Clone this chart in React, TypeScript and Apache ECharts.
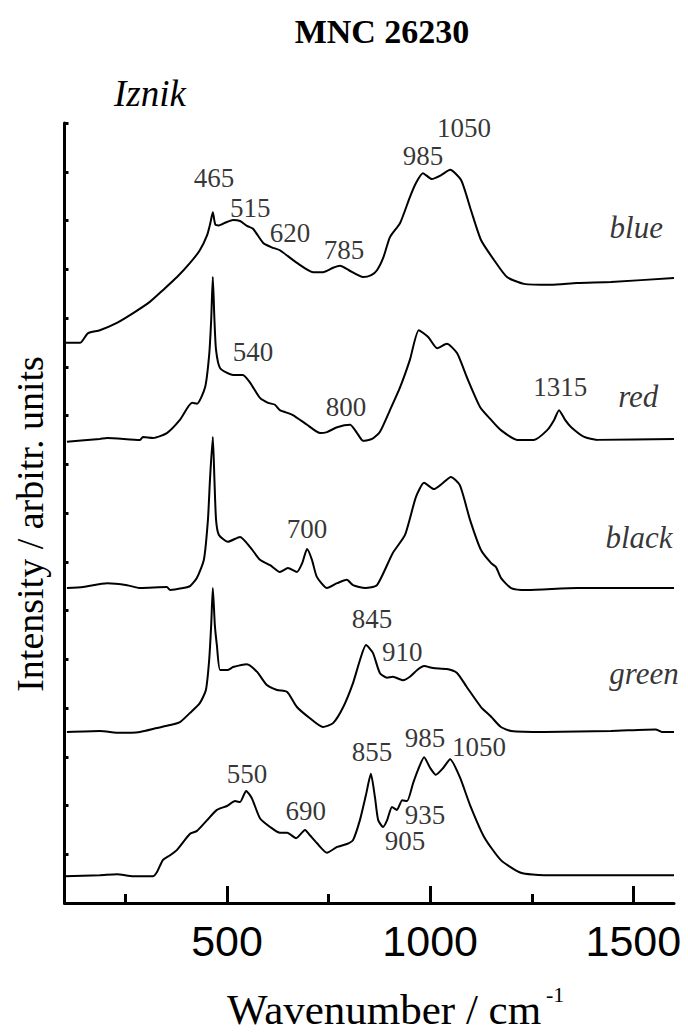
import React, { useEffect, useRef } from "react";
import * as echarts from "echarts";

// Raman spectra (wavenumber / cm-1, stacked intensity level in arbitrary units)
const blueSpectrum: [number, number][] = [
  [100, 11.49], [138, 11.49], [158, 11.69], [187, 11.75], [229, 11.9], [269, 12.1], [310, 12.33],
  [342, 12.57], [377, 12.84], [409, 13.13], [433, 13.39], [451, 13.7], [459, 13.95], [465, 14.17],
  [471, 13.92], [480, 13.9], [497, 13.96], [515, 14.01], [532, 13.99], [549, 13.89], [564, 13.83],
  [589, 13.54], [610, 13.45], [630, 13.39], [672, 13.13], [712, 12.94], [736, 12.94], [761, 13.03],
  [778, 13.07], [800, 12.98], [835, 12.84], [855, 12.88], [869, 12.98], [885, 13.25], [901, 13.66],
  [926, 13.95], [950, 14.48], [965, 14.77], [982, 14.97], [1004, 14.85], [1027, 14.93], [1049, 15.04],
  [1076, 14.83], [1100, 14.22], [1125, 13.6], [1157, 13.19], [1189, 12.84], [1231, 12.7], [1297, 12.68],
  [1361, 12.72], [1445, 12.74], [1600, 12.82],
];

const redSpectrum: [number, number][] = [
  [106, 9.46], [187, 9.52], [205, 9.54], [286, 9.5], [293, 9.56], [318, 9.54], [352, 9.64], [384, 9.91],
  [414, 10.26], [426, 10.24], [446, 10.58], [456, 11.24], [461, 11.96], [465, 12.84], [469, 11.96],
  [473, 11.34], [483, 10.97], [515, 10.83], [539, 10.83], [557, 10.67], [581, 10.36], [601, 10.26],
  [618, 10.22], [630, 10.11], [662, 10.01], [697, 9.81], [729, 9.64], [746, 9.66], [771, 9.76],
  [803, 9.81], [820, 9.64], [835, 9.48], [857, 9.52], [876, 9.66], [901, 10.11], [926, 10.58],
  [950, 11.14], [972, 11.75], [995, 11.61], [1017, 11.38], [1041, 11.47], [1066, 11.28], [1090, 10.79],
  [1123, 10.17], [1150, 9.91], [1174, 9.7], [1214, 9.5], [1255, 9.5], [1288, 9.7], [1305, 9.91],
  [1317, 10.11], [1332, 9.91], [1347, 9.76], [1379, 9.56], [1411, 9.5], [1600, 9.52],
];

const blackSpectrum: [number, number][] = [
  [106, 6.46], [146, 6.48], [205, 6.56], [254, 6.52], [286, 6.46], [352, 6.48], [360, 6.42], [392, 6.46],
  [409, 6.5], [426, 6.67], [443, 7.04], [453, 7.86], [458, 8.68], [465, 9.56], [469, 8.68], [473, 7.86],
  [480, 7.55], [502, 7.41], [532, 7.51], [557, 7.3], [581, 7.04], [606, 6.93], [630, 6.79], [650, 6.87],
  [672, 6.79], [685, 6.97], [697, 7.26], [709, 7.04], [721, 6.69], [746, 6.46], [771, 6.56], [795, 6.63],
  [810, 6.52], [840, 6.46], [869, 6.52], [908, 7.18], [938, 7.55], [965, 8.33], [985, 8.62], [1009, 8.49],
  [1029, 8.6], [1051, 8.74], [1073, 8.57], [1098, 7.86], [1125, 7.24], [1150, 6.97], [1162, 6.89],
  [1174, 6.67], [1199, 6.46], [1238, 6.42], [1361, 6.46], [1600, 6.46],
];

const greenSpectrum: [number, number][] = [
  [106, 3.51], [187, 3.53], [237, 3.49], [286, 3.51], [328, 3.59], [360, 3.65], [384, 3.71], [409, 3.9],
  [433, 4.1], [448, 4.37], [456, 4.98], [461, 5.7], [465, 6.46], [470, 5.7], [475, 5.29], [483, 4.78],
  [502, 4.78], [515, 4.84], [549, 4.9], [574, 4.74], [598, 4.47], [623, 4.37], [648, 4.33], [672, 4.02],
  [704, 3.79], [736, 3.61], [761, 3.69], [786, 4.02], [810, 4.51], [827, 4.98], [842, 5.29], [859, 5.13],
  [876, 4.72], [894, 4.62], [908, 4.64], [933, 4.57], [950, 4.64], [968, 4.78], [985, 4.86], [1007, 4.82],
  [1041, 4.8], [1066, 4.72], [1090, 4.43], [1125, 4.02], [1150, 3.82], [1174, 3.61], [1199, 3.53],
  [1280, 3.51], [1445, 3.53], [1555, 3.56], [1570, 3.51], [1600, 3.51],
];

const bottomSpectrum: [number, number][] = [
  [100, 0.55], [187, 0.57], [229, 0.59], [269, 0.55], [318, 0.55], [328, 0.64], [342, 0.88], [360, 0.98],
  [377, 1.09], [409, 1.42], [426, 1.48], [451, 1.7], [475, 1.91], [500, 1.99], [520, 2.09], [532, 2.07],
  [547, 2.3], [561, 2.15], [581, 1.74], [606, 1.56], [630, 1.44], [648, 1.44], [670, 1.33], [692, 1.5],
  [704, 1.39], [721, 1.23], [746, 1.03], [771, 1.15], [795, 1.21], [810, 1.29], [827, 1.7], [842, 2.22],
  [854, 2.65], [864, 2.17], [872, 1.7], [884, 1.56], [894, 1.7], [906, 1.97], [918, 1.91], [931, 2.11],
  [943, 2.09], [958, 2.46], [970, 2.73], [985, 2.99], [1000, 2.77], [1014, 2.63], [1032, 2.77],
  [1049, 2.95], [1073, 2.58], [1098, 2.01], [1133, 1.35], [1174, 0.88], [1223, 0.62], [1280, 0.57],
  [1445, 0.57], [1600, 0.57],
];

// Peak annotations: text, anchor wavenumber, anchor level
const peakLabels: [string, number, number][] = [
  ["465", 468, 14.87], ["515", 557, 14.26], ["620", 655, 13.74], ["785", 788, 13.39],
  ["985", 982, 15.32], ["1050", 1083, 15.9],
  ["540", 564, 11.3], ["800", 793, 10.17], ["1315", 1320, 10.58],
  ["700", 697, 7.67],
  ["845", 857, 5.83], ["910", 931, 5.15],
  ["550", 549, 2.65], ["690", 694, 1.89], ["855", 857, 3.1], ["985", 987, 3.38],
  ["1050", 1120, 3.2], ["935", 987, 1.81], ["905", 938, 1.27],
];

const sampleLabels: [string, number, number][] = [
  ["blue", 1507, 13.86], ["red", 1512, 10.39], ["black", 1514, 7.5], ["green", 1526, 4.7],
];

const xMajorTicks = [500, 1000, 1500];
const xMinorTicks = [250, 750, 1250];

const SERIF = "Liberation Serif";
const SANS = "Liberation Sans";

export default function App() {
  const ref = useRef<HTMLDivElement>(null);
  useEffect(() => {
    if (!ref.current) return;
    const chart = echarts.init(ref.current, null, { renderer: "svg" });
    const spectra = [blueSpectrum, redSpectrum, blackSpectrum, greenSpectrum, bottomSpectrum];
    const lineSeries = spectra.map((d) => ({
      type: "line",
      data: d,
      showSymbol: false,
      symbol: "none",
      smooth: 0.2,
      lineStyle: { color: "#000", width: 2 },
      silent: true,
      z: 3,
    }));
    chart.setOption({
      animation: false,
      backgroundColor: "#fff",
      textStyle: { fontFamily: SERIF, color: "#000" },
      grid: { left: 64.5, right: 14, top: 123, bottom: 131, containLabel: false },
      xAxis: [
        {
          type: "value",
          min: 100,
          max: 1600,
          position: "bottom",
          axisLine: { show: true, lineStyle: { color: "#000", width: 3 } },
          axisTick: { show: true, inside: true, length: 17, customValues: xMajorTicks, lineStyle: { color: "#000", width: 3 } },
          axisLabel: {
            show: true,
            customValues: xMajorTicks,
            margin: 16,
            color: "#000",
            fontSize: 43,
            fontFamily: SANS,
            formatter: (v: number) => String(v),
          },
          splitLine: { show: false },
        },
        {
          type: "value",
          min: 100,
          max: 1600,
          position: "bottom",
          offset: 0,
          axisLine: { show: false },
          axisTick: { show: true, inside: true, length: 9, customValues: xMinorTicks, lineStyle: { color: "#000", width: 3 } },
          axisLabel: { show: false },
          splitLine: { show: false },
        },
      ],
      yAxis: {
        type: "value",
        min: 0,
        max: 16,
        interval: 1,
        axisLine: { show: true, lineStyle: { color: "#000", width: 3 } },
        axisTick: { show: true, inside: true, length: 4, lineStyle: { color: "#000", width: 3 } },
        axisLabel: { show: false },
        splitLine: { show: false },
      },
      series: [
        ...lineSeries,
        {
          type: "scatter",
          data: peakLabels.map(([t, w, v]) => ({ name: t, value: [w, v] })),
          symbolSize: 0,
          silent: true,
          itemStyle: { color: "rgba(0,0,0,0)" },
          label: { show: true, position: "inside", formatter: "{b}", color: "#000", fontFamily: SERIF, fontSize: 27 },
          z: 5,
        },
        {
          type: "scatter",
          data: sampleLabels.map(([t, w, v]) => ({ name: t, value: [w, v] })),
          symbolSize: 0,
          silent: true,
          itemStyle: { color: "rgba(0,0,0,0)" },
          label: { show: true, position: "inside", formatter: "{b}", color: "#000", fontFamily: SERIF, fontSize: 31, fontStyle: "italic" },
          z: 5,
        },
      ],
      graphic: [
        {
          type: "text",
          style: { x: 382, y: 31, text: "MNC 26230", fontFamily: SERIF, fontSize: 34, fontWeight: "bold", fill: "#000", textAlign: "center", textVerticalAlign: "middle" },
        },
        {
          type: "text",
          style: { x: 150, y: 93, text: "Iznik", fontFamily: SERIF, fontSize: 37, fontStyle: "italic", fill: "#000", textAlign: "center", textVerticalAlign: "middle" },
        },
        {
          type: "text",
          x: 30,
          y: 524,
          rotation: Math.PI / 2,
          style: { x: 0, y: 0, text: "Intensity / arbitr. units", fontFamily: SERIF, fontSize: 38, fill: "#000", textAlign: "center", textVerticalAlign: "middle" },
        },
        {
          type: "text",
          style: { x: 227, y: 1009, text: "Wavenumber / cm", fontFamily: SERIF, fontSize: 43, fill: "#000", textAlign: "left", textVerticalAlign: "middle" },
        },
        {
          type: "text",
          style: { x: 546, y: 994, text: "-1", fontFamily: SERIF, fontSize: 22, fill: "#000", textAlign: "left", textVerticalAlign: "middle" },
        },
      ],
    });
    return () => chart.dispose();
  }, []);
  return <div ref={ref} style={{ position: "absolute", left: 0, top: 0, width: 688, height: 1034 }} />;
}
